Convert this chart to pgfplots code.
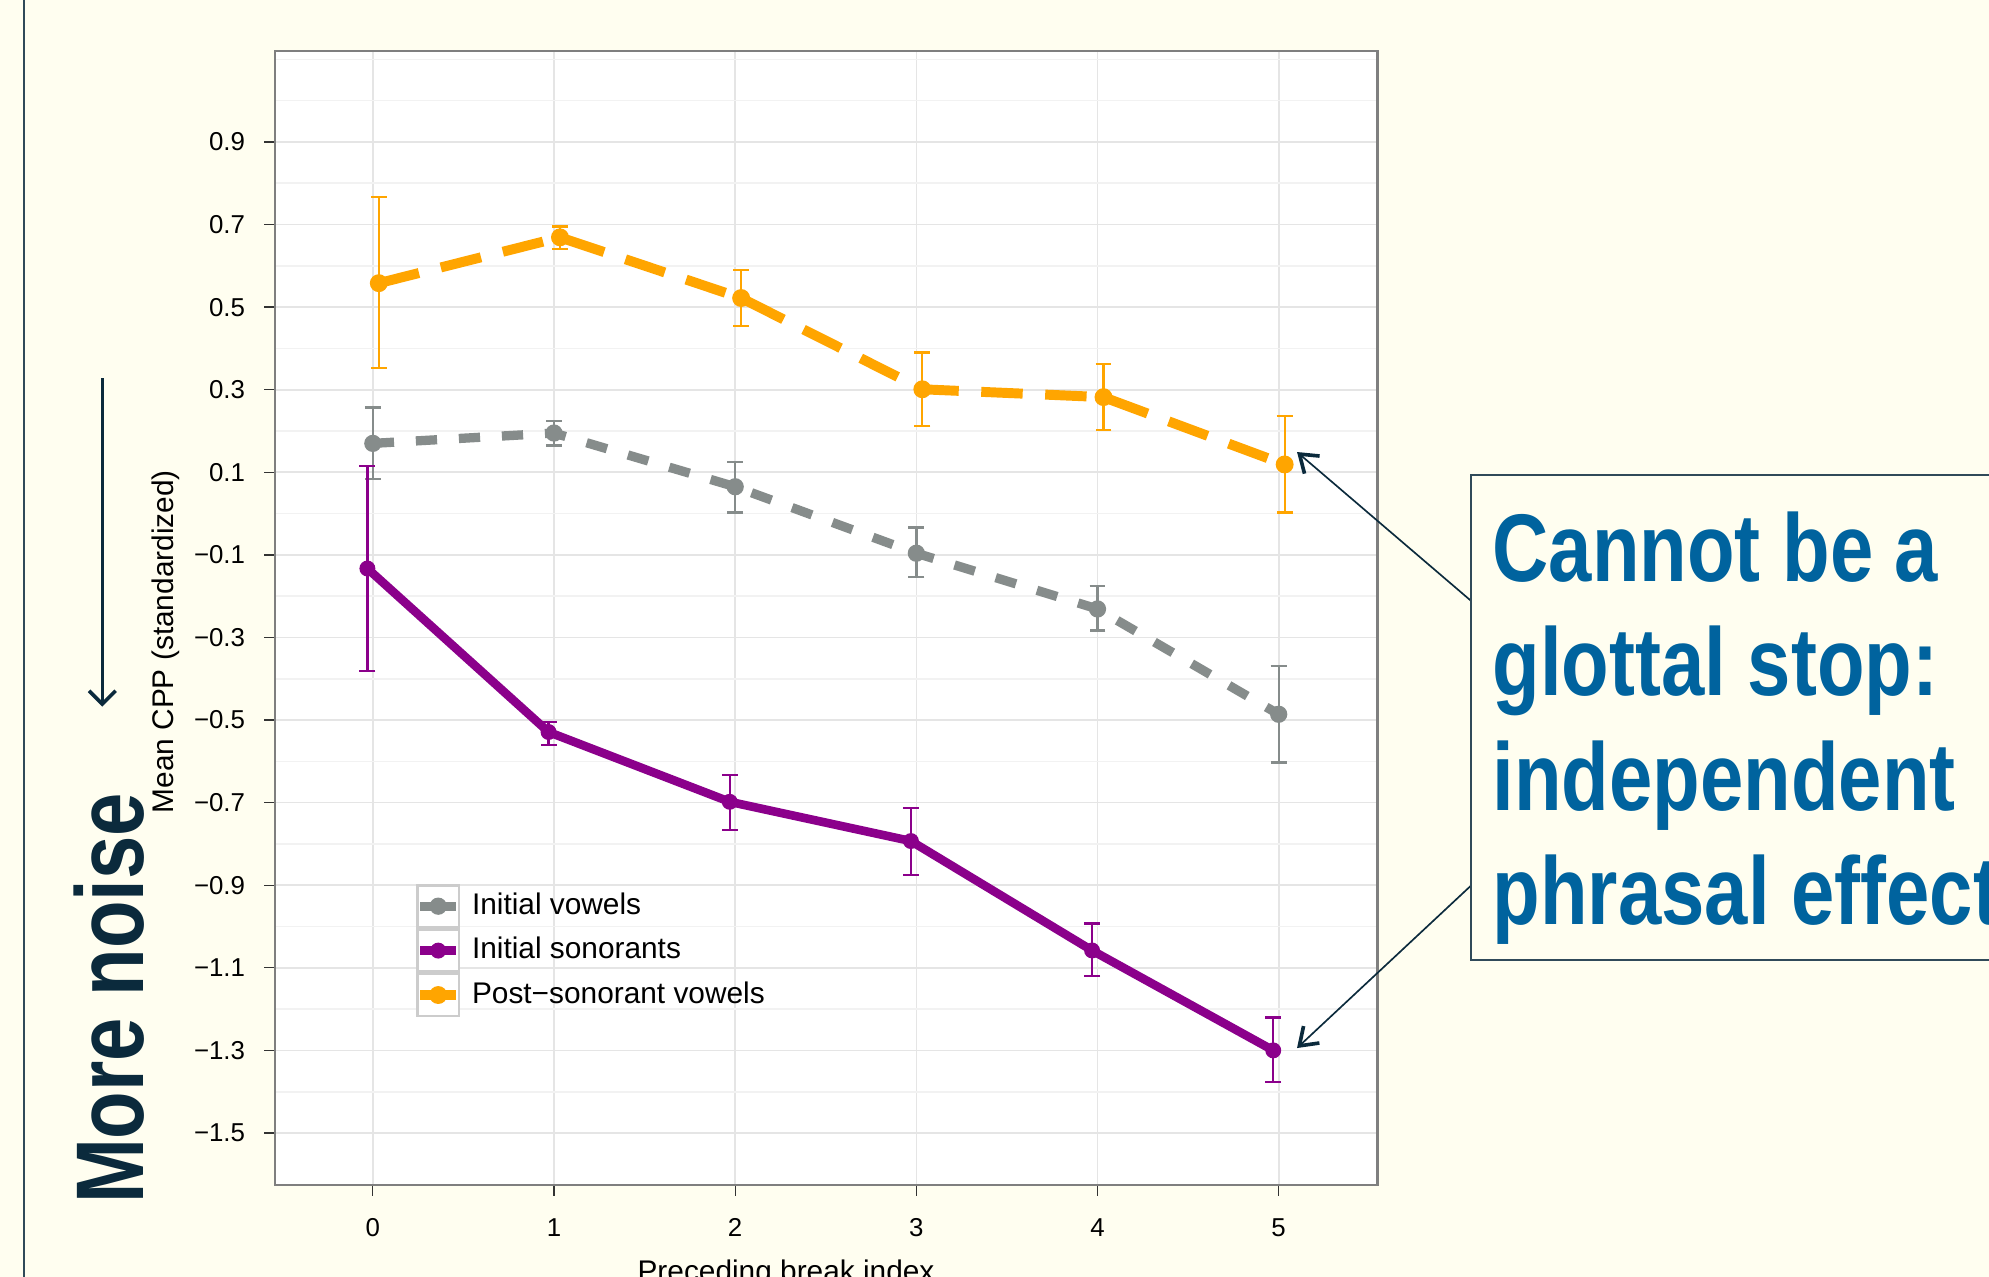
\documentclass[border=0pt]{standalone}
\usepackage{pgfplots}
\pgfplotsset{compat=1.18}
\usepackage{fontspec}
\setmainfont{Liberation Sans}
\newfontfamily\narrowfont[FakeStretch=0.81]{Liberation Sans}
\usetikzlibrary{arrows.meta}
\definecolor{cream}{HTML}{FFFEF0}
\definecolor{navy}{HTML}{0B2A3C}
\definecolor{boxblue}{HTML}{00639E}
\definecolor{cgray}{RGB}{134,140,139}
\definecolor{cpurple}{HTML}{8B008B}
\definecolor{corange}{HTML}{FFA500}
\definecolor{framegray}{HTML}{7F7F7F}
\begin{document}
\begin{tikzpicture}
\useasboundingbox (0,0) rectangle (600pt,-385.21pt);
\clip (0,0) rectangle (600pt,-385.21pt);
\fill[cream] (0,0) rectangle (600pt,-385.21pt);
\begin{scope}[x=0.30166pt,y=-0.30166pt]
  \draw[navy!85, line width=0.75pt] (24,0) -- (24,1277);
  \node[rotate=90, anchor=base west, text=navy, font=\narrowfont\bfseries\fontsize{29}{34}\selectfont, inner sep=0pt] at (143.3,1204.5) {More noise};
  \draw[navy, line width=0.8pt, -{Straight Barb[length=4pt,width=8pt,line width=1.1pt]}] (102.3,378.4) -- (102.3,706.6);
  \node[rotate=90, anchor=base west, font=\fontsize{9}{10}\selectfont, inner sep=0pt] at (173.3,814) {Mean CPP (standardized)};
  \node[anchor=base, font=\fontsize{9}{10}\selectfont, inner sep=0pt] at (786,1281) {Preceding break index};
\end{scope}
\begin{axis}[
  at={(82.957pt,-357.47pt)}, anchor=south west,
  width=332.61pt, height=342.18pt, scale only axis,
  xmin=-0.540, xmax=5.546, ymin=-1.626, ymax=1.121,
  axis background/.style={fill=white},
  axis line style={framegray, line width=0.7pt},
  xtick={0,1,2,3,4,5}, xticklabels={0,1,2,3,4,5},
  ytick={-1.5,-1.3,-1.1,-0.9,-0.7,-0.5,-0.3,-0.1,0.1,0.3,0.5,0.7,0.9},
  yticklabels={−1.5,−1.3,−1.1,−0.9,−0.7,−0.5,−0.3,−0.1,0.1,0.3,0.5,0.7,0.9},
  minor ytick={-1.4,-1.2,-1.0,-0.8,-0.6,-0.4,-0.2,0,0.2,0.4,0.6,0.8,1.0,1.1},
  tick pos=left, tick align=outside, major tick length=3.3pt, minor tick length=0pt,
  major tick style={black!80, line width=0.4pt},
  xmajorgrids, ymajorgrids, yminorgrids,
  major grid style={draw=black!10, line width=0.5pt},
  minor grid style={draw=black!5, line width=0.5pt},
  ticklabel style={font=\fontsize{7.8}{9}\selectfont},
  yticklabel style={xshift=-2.2pt},
  xticklabel style={yshift=-3.2pt},
  legend image code/.code={
    \draw[draw=black!20, line width=0.8pt, fill=white, solid] (0pt,-6.3pt) rectangle (12.6pt,6.3pt);
    \draw[mark repeat=2, mark phase=2, #1, solid] plot coordinates {(0.8pt,0pt) (6.3pt,0pt) (11.8pt,0pt)};
  },
  legend style={at={(0.127,0.2654)}, anchor=north west, draw=none, fill=none,
    inner sep=0pt, outer sep=0pt, row sep=0pt, column sep=3.2pt,
    font=\fontsize{9}{10}\selectfont, nodes={inner sep=0pt}},
  legend cell align=left,
]
\addplot[color=cgray, line width=2.8pt, dash pattern=on 6.4pt off 6.6pt,
  mark=*, mark size=2.4pt, mark options={solid, line width=0.4pt},
  error bars/.cd, y dir=both, y explicit,
  error bar style={line width=0.7pt, solid},
  error mark=-,
  error mark options={rotate=90, line width=0.7pt, mark size=2.4pt, solid}]
coordinates {
 (0,0.170) += (0,0.087) -= (0,0.087)
 (1,0.195) += (0,0.030) -= (0,0.030)
 (2,0.065) += (0,0.060) -= (0,0.062)
 (3,-0.096) += (0,0.062) -= (0,0.058)
 (4,-0.231) += (0,0.055) -= (0,0.052)
 (5,-0.486) += (0,0.117) -= (0,0.117)
};
\addlegendentry{Initial vowels}
\addplot[color=cpurple, line width=2.6pt,
  mark=*, mark size=2.2pt, mark options={solid, line width=0.4pt},
  error bars/.cd, y dir=both, y explicit,
  error bar style={line width=0.7pt, solid},
  error mark=-,
  error mark options={rotate=90, line width=0.7pt, mark size=2.4pt, solid}]
coordinates {
 (-0.03,-0.133) += (0,0.249) -= (0,0.248)
 (0.97,-0.529) += (0,0.025) -= (0,0.031)
 (1.97,-0.698) += (0,0.065) -= (0,0.068)
 (2.97,-0.793) += (0,0.080) -= (0,0.083)
 (3.97,-1.058) += (0,0.065) -= (0,0.061)
 (4.97,-1.300) += (0,0.080) -= (0,0.077)
};
\addlegendentry{Initial sonorants}
\addplot[color=corange, line width=3pt, dash pattern=on 12.5pt off 6.8pt,
  mark=*, mark size=2.5pt, mark options={solid, line width=0.4pt},
  error bars/.cd, y dir=both, y explicit,
  error bar style={line width=0.7pt, solid},
  error mark=-,
  error mark options={rotate=90, line width=0.7pt, mark size=2.4pt, solid}]
coordinates {
 (0.033,0.558) += (0,0.209) -= (0,0.206)
 (1.033,0.669) += (0,0.026) -= (0,0.028)
 (2.033,0.522) += (0,0.068) -= (0,0.068)
 (3.033,0.301) += (0,0.089) -= (0,0.089)
 (4.033,0.282) += (0,0.080) -= (0,0.080)
 (5.033,0.119) += (0,0.117) -= (0,0.116)
};
\addlegendentry{Post−sonorant vowels}
\end{axis}
\begin{scope}[x=0.30166pt,y=-0.30166pt]
  \draw[navy, line width=0.5pt, -{Straight Barb[length=5pt,width=7pt,line width=1.1pt]}] (1470.5,600.4) -- (1297,452);
  \draw[navy, line width=0.5pt, -{Straight Barb[length=5pt,width=7pt,line width=1.1pt]}] (1470.5,886) -- (1297,1048);
  \draw[navy!85, line width=0.6pt, fill=cream] (1470.5,475) rectangle (2010,960);
  \begin{scope}[every node/.style={anchor=base west, text=boxblue, font=\narrowfont\bfseries\fontsize{29}{34.5}\selectfont, inner sep=0pt}]
    \node at (1492,581.4) {Cannot be a};
    \node at (1492,695.7) {glottal stop:};
    \node at (1492,810.4) {independent};
    \node at (1492,924.6) {phrasal effect};
  \end{scope}
\end{scope}
\end{tikzpicture}
\end{document}
